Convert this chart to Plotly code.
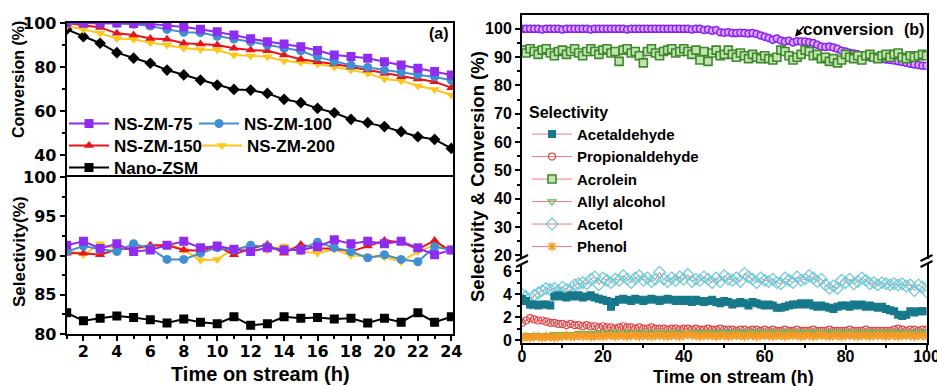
import plotly.graph_objects as go

W, H = 937, 386
def PX(p): return p / W
def PY(p): return 1 - p / H

# ---------------- Panel (a) data ----------------
hours = list(range(1, 25))
conv_75 = [100, 100, 100, 100, 99.8, 99.5, 99, 98.2, 97.2, 96, 94.5, 92.8, 91.5, 90.5, 89.2, 87.5, 85.5, 84.8, 84.0, 82.4, 80.9, 79.4, 77.9, 76.4]
conv_100 = [100, 100, 100, 99.9, 99.4, 98.6, 97.1, 95.8, 95.6, 94, 92.7, 91.5, 90, 88.5, 87.3, 84.5, 82.5, 80.8, 79.8, 78.6, 77.5, 76.5, 75.5, 74]
conv_150 = [100, 99, 98, 95.3, 94.5, 93, 92.6, 90.8, 90.5, 90, 88.5, 87.7, 87.4, 85.5, 83.5, 82.4, 81.4, 80, 78.6, 77.1, 75.6, 74.5, 73.3, 70.6]
conv_200 = [98.5, 97.1, 95.3, 93, 92.6, 91, 90, 88.5, 88, 87.7, 85.5, 85, 84.7, 82.7, 82, 81.4, 80, 78.6, 77.1, 74.5, 73.8, 71.4, 69.8, 67.3]
conv_nano = [97.1, 93.8, 90.8, 86.5, 84, 81.7, 78.6, 76.4, 74, 71.8, 69.8, 69.5, 68, 65.3, 63.8, 61.2, 59.2, 56.2, 54.7, 52.9, 50.6, 48.3, 47.1, 43]

sel_75 = [91.3, 91.8, 90.9, 91.5, 90.5, 90.7, 91.3, 91.8, 91.0, 91.2, 90.8, 90.5, 91.0, 90.7, 90.7, 91.1, 92.0, 91.5, 91.8, 91.5, 91.8, 91.0, 90.1, 90.7]
sel_100 = [90.5, 91.2, 90.8, 90.5, 91.5, 90.9, 89.5, 89.5, 90.3, 91.0, 90.7, 91.3, 91.1, 90.7, 90.8, 91.7, 91.0, 90.5, 89.7, 90.1, 89.5, 89.2, 91.1, 90.7]
sel_150 = [90.3, 90.3, 90.1, 90.8, 90.9, 91.3, 91.3, 90.7, 90.6, 91.2, 90.1, 90.9, 91.4, 90.3, 91.4, 90.9, 90.9, 90.5, 91.2, 91.9, 91.7, 90.8, 91.9, 90.5]
sel_200 = [90.7, 90.1, 91.5, 90.8, 91.0, 91.0, 91.5, 90.7, 89.4, 89.5, 90.9, 90.8, 90.7, 91.2, 90.5, 90.3, 90.8, 90.0, 89.9, 89.8, 89.2, 90.5, 91.3, 90.8]
sel_nano = [82.7, 81.7, 82.0, 82.3, 82.1, 81.8, 81.4, 81.9, 81.5, 81.3, 82.2, 81.1, 81.3, 82.2, 82.0, 82.1, 81.9, 82.0, 81.4, 82.0, 81.5, 82.7, 81.5, 82.2]

names_a = ["NS-ZM-75", "NS-ZM-100", "NS-ZM-150", "NS-ZM-200", "Nano-ZSM"]
colors_a = ["#8f2cf0", "#3f8fd2", "#e8141c", "#ffc61a", "#000000"]

# ---------------- Panel (b) data ----------------
time_b = list(range(0, 101))
conversion_b = [100,100,100,100,100,99.8,100,100,100,100,
                99.8,100,100,100,100,100,100,99.8,100,100,
                100,100,100,100,100,100,99.8,100,100,100,
                100,100,100,100,100,100,100,100,100,100,
                100,100,99.8,100,100,99.6,99.8,99.3,99.6,98.8,
                98.6,98.8,98.5,98.5,98.6,98.5,98.4,98.5,98.2,97.7,
                97.2,96.8,96.2,96.6,95.9,95.5,95.8,95.2,95.6,95.5,
                95.5,95.3,95.0,94.4,93.8,93.6,93.8,93.4,93.0,92.3,
                92.0,91.6,91.3,91.0,90.6,90.2,90.0,89.7,89.5,89.4,
                89.2,89.0,88.8,88.6,88.3,88.0,87.7,87.4,87.2,87.0,87.0]
acrolein = [92.5,91.5,93,92,91,92.5,93,91.5,90.5,92,
            92.5,91,92,93,91.5,90.5,92,93,92,91,
            92.5,93,91.5,92,88.5,92.5,93,91.5,92,90.5,
            88,92,93,91.5,90.5,92,92.5,93,91.5,92,
            93,92,91,92.5,89,92,88.5,91.5,92.5,90.5,
            91,92.5,91,90,91.5,90.5,89.5,91,90,89.5,
            90.5,89.5,89,90,92.5,92,90.5,89,90,91,
            92.5,92,90.5,91,89.5,90,88.5,89.5,88,89,
            91,90,89.5,90.5,89,90.5,91,90,89.5,90.5,
            91,90,91,91.5,90,89.5,90.5,90,90.5,91,90.5]
acetaldehyde = [3.6,3.4,3.1,3.1,3.0,3.1,3.1,3.0,3.8,3.9,
                3.8,3.7,3.9,3.8,3.9,3.7,3.8,3.9,3.7,3.6,
                3.5,3.4,2.9,3.3,3.5,3.6,3.5,3.4,3.6,3.5,
                3.4,3.5,3.6,3.5,3.4,3.5,3.6,3.5,3.4,3.5,
                3.4,3.5,3.3,3.5,3.4,3.3,3.4,3.5,3.3,3.2,
                3.4,3.3,3.1,3.2,3.3,3.2,3.0,3.3,3.2,3.1,
                3.0,3.1,3.0,2.8,2.8,2.9,3.0,3.1,3.1,3.2,
                3.1,3.2,3.0,2.9,3.0,2.9,2.8,2.7,2.9,3.0,
                3.0,2.9,3.1,3.0,3.1,2.9,3.0,2.9,2.8,2.9,
                2.7,2.6,2.5,2.2,2.1,2.2,2.5,2.4,2.5,2.5,2.5]
propionaldehyde = [1.5,1.7,1.9,1.8,1.7,1.7,1.6,1.5,1.5,1.4,
                   1.4,1.3,1.4,1.3,1.3,1.2,1.3,1.2,1.2,1.1,
                   1.2,1.1,1.1,1.0,1.1,1.2,1.1,1.1,1.0,1.1,
                   1.0,1.0,1.1,1.0,1.0,1.0,0.9,1.0,1.0,0.9,
                   1.0,1.0,0.9,1.0,0.9,0.9,1.0,0.9,0.9,1.0,
                   0.9,0.9,0.9,0.8,0.9,0.9,0.8,0.9,0.9,0.8,
                   0.9,0.8,0.9,0.8,0.8,0.9,0.8,0.8,0.9,0.8,
                   0.8,0.8,0.9,0.8,0.8,0.8,0.9,0.8,0.8,0.8,
                   0.8,0.9,0.8,0.8,0.8,0.9,0.8,0.8,0.8,0.8,
                   0.8,0.8,0.9,1.0,0.9,0.8,0.9,0.9,0.8,0.9,0.9]
allyl_alcohol = [0.3,0.4,0.3,0.4,0.4,0.3,0.4,0.4,0.5,0.4,
                 0.5,0.4,0.5,0.5,0.6,0.5,0.6,0.5,0.6,0.6,
                 0.5,0.6,0.6,0.7,0.6,0.6,0.7,0.6,0.6,0.7,
                 0.6,0.7,0.6,0.6,0.7,0.6,0.6,0.6,0.7,0.6,
                 0.6,0.7,0.7,0.6,0.7,0.6,0.7,0.7,0.6,0.7,
                 0.7,0.6,0.7,0.7,0.7,0.6,0.7,0.7,0.7,0.7,
                 0.6,0.7,0.7,0.7,0.6,0.7,0.7,0.7,0.7,0.6,
                 0.7,0.7,0.7,0.7,0.7,0.6,0.7,0.7,0.7,0.7,
                 0.7,0.7,0.6,0.7,0.7,0.7,0.7,0.7,0.6,0.7,
                 0.7,0.7,0.7,0.7,0.7,0.6,0.7,0.7,0.7,0.7,0.7]
acetol = [4.0,3.8,3.2,3.9,4.1,4.3,4.5,4.4,4.5,4.3,
          4.6,4.4,4.3,4.8,4.9,5.0,4.9,5.3,5.5,4.8,
          5.4,5.2,5.0,5.3,5.2,5.6,5.3,5.0,5.4,5.6,
          5.2,5.4,5.1,5.3,5.9,5.3,5.1,5.4,5.2,5.5,
          5.3,5.7,5.1,5.3,5.2,5.5,5.3,5.0,5.4,5.1,
          5.6,5.3,5.2,5.4,5.1,5.8,5.5,5.3,5.0,5.4,
          5.2,5.1,5.3,5.0,4.9,5.4,5.2,5.0,5.5,5.2,
          5.3,5.6,5.4,5.1,5.3,4.8,4.5,4.7,4.5,5.2,
          5.0,5.3,4.9,5.1,5.4,5.2,4.9,5.0,4.8,5.0,
          4.9,4.8,4.9,4.8,4.9,4.7,4.8,4.3,4.8,4.6,4.2]
phenol = [0.2,0.3,0.2,0.3,0.3,0.2,0.3,0.3,0.2,0.3,
          0.3,0.4,0.3,0.3,0.4,0.3,0.4,0.3,0.3,0.4,
          0.3,0.4,0.4,0.3,0.4,0.4,0.3,0.4,0.4,0.3,
          0.4,0.4,0.3,0.4,0.4,0.4,0.3,0.4,0.4,0.3,
          0.4,0.5,0.4,0.4,0.3,0.4,0.4,0.4,0.3,0.4,
          0.4,0.3,0.4,0.4,0.4,0.3,0.4,0.4,0.3,0.4,
          0.4,0.4,0.3,0.4,0.4,0.3,0.4,0.4,0.4,0.3,
          0.4,0.4,0.3,0.4,0.4,0.4,0.3,0.4,0.4,0.3,
          0.4,0.4,0.4,0.3,0.4,0.4,0.3,0.4,0.4,0.4,
          0.3,0.4,0.4,0.3,0.4,0.4,0.4,0.3,0.4,0.4,0.3]

FONT = "Liberation Sans, Arial, sans-serif"
FONT_A = "DejaVu Sans, sans-serif"
fig = go.Figure()

# ---- panel (a) traces ----
conv_a = [conv_75, conv_100, conv_150, conv_200, conv_nano]
sel_a = [sel_75, sel_100, sel_150, sel_200, sel_nano]
sym_top = ["square", "circle", "triangle-up", "triangle-down", "diamond"]
sym_bot = ["square", "circle", "triangle-up", "triangle-down", "square"]
legs = ["legend", "legend2", "legend3", "legend4", "legend5"]
order = [4, 3, 2, 1, 0]
for i in order:
    fig.add_trace(go.Scatter(x=hours, y=conv_a[i], mode="lines+markers", name=names_a[i],
                             line=dict(color=colors_a[i], width=2),
                             marker=dict(symbol=sym_top[i], size=9, color=colors_a[i]),
                             xaxis="x", yaxis="y", showlegend=False))
for i in order:
    fig.add_trace(go.Scatter(x=hours, y=sel_a[i], mode="lines+markers", name=names_a[i],
                             line=dict(color=colors_a[i], width=2),
                             marker=dict(symbol=sym_bot[i], size=9, color=colors_a[i]),
                             xaxis="x2", yaxis="y2", legend=legs[i]))

# ---- panel (b) traces ----
LC = "#f07a7a"
fig.add_trace(go.Scatter(x=time_b, y=conversion_b, mode="lines+markers", name="conversion",
                         line=dict(color="#9a30f0", width=1),
                         marker=dict(symbol="circle", size=7, color="#d9a8ff",
                                     line=dict(color="#8a1ff0", width=1.5)),
                         xaxis="x3", yaxis="y3", showlegend=False))
fig.add_trace(go.Scatter(x=time_b, y=acrolein, mode="lines+markers", name="Acrolein",
                         line=dict(color=LC, width=1),
                         marker=dict(symbol="square", size=8, color="#c4e3b3",
                                     line=dict(color="#3d8a2a", width=1.6)),
                         xaxis="x3", yaxis="y3", legend="legend6", legendrank=3))
lower = [
    ("Acetol", acetol, "diamond-open", "#6cc9d9", 9, 1.2, 5),
    ("Acetaldehyde", acetaldehyde, "square", "#16788a", 8, 0, 1),
    ("Propionaldehyde", propionaldehyde, "circle-open", "#e0484a", 7, 1.2, 2),
    ("Allyl alcohol", allyl_alcohol, "triangle-down-open", "#5cb85c", 7, 1.2, 4),
    ("Phenol", phenol, "asterisk-open", "#f59a25", 8, 1.5, 6),
]
for name, vals, sym, col, sz, lw, rank in lower:
    mk = dict(symbol=sym, size=sz, color=col)
    if lw:
        mk["line"] = dict(color=col, width=lw)
    fig.add_trace(go.Scatter(x=time_b, y=vals, mode="lines+markers", name=name,
                             line=dict(color=LC, width=1), marker=mk,
                             xaxis="x4", yaxis="y4", legend="legend6", legendrank=rank))

# ---- axes ----
tf_a = dict(family=FONT_A, size=16, color="black", weight="bold")
tf_b = dict(family=FONT, size=16, color="black", weight="bold")
base = dict(showline=True, linecolor="black", linewidth=2, showgrid=False, zeroline=False,
            ticklen=5, tickwidth=2, tickcolor="black", ticklabeloverflow="allow")
ax_a = dict(base, tickfont=tf_a)
ax_b = dict(base, tickfont=tf_b)
mn = dict(ticks="outside", ticklen=3, tickwidth=1.5, tickcolor="black")
xa_dom = [PX(66.7), PX(453)]
xb_dom = [PX(522), PX(926.5)]

layout = dict(
    width=W, height=H, margin=dict(l=0, r=0, t=0, b=0, autoexpand=False),
    paper_bgcolor="white", plot_bgcolor="white", showlegend=True,
    xaxis=dict(ax_a, domain=xa_dom, range=[1, 24.1], anchor="y", side="top",
               ticks="", showticklabels=False),
    yaxis=dict(ax_a, domain=[PY(177), PY(23)], range=[30, 100], anchor="x", mirror=True,
               ticks="outside", tickvals=[40, 60, 80, 100],
               minor=dict(mn, tickvals=[50, 70, 90])),
    xaxis2=dict(ax_a, domain=xa_dom, range=[1, 24.1], anchor="y2", mirror=True,
                ticks="outside", tickvals=list(range(2, 25, 2)), ticklabelstandoff=-3,
                minor=dict(mn, tickvals=list(range(1, 25, 2)))),
    yaxis2=dict(ax_a, domain=[PY(334), PY(177)], range=[80, 100], anchor="x2", mirror=True,
                ticks="outside", tickvals=[80, 85, 90, 95, 100],
                minor=dict(mn, tickvals=[82.5, 87.5, 92.5, 97.5])),
    xaxis3=dict(ax_b, domain=xb_dom, range=[0, 100], anchor="y3", side="top",
                ticks="", showticklabels=False),
    yaxis3=dict(ax_b, domain=[PY(259), PY(15)], range=[18.7, 104.9], anchor="x3", mirror=True,
                ticks="outside", tickvals=list(range(20, 101, 10)),
                minor=dict(mn, tickvals=list(range(25, 101, 10)))),
    xaxis4=dict(ax_b, domain=xb_dom, range=[0, 100], anchor="y4",
                ticks="outside", tickvals=list(range(0, 101, 20)), ticklabelstandoff=-7,
                minor=dict(mn, tickvals=list(range(10, 100, 20)))),
    yaxis4=dict(ax_b, domain=[PY(343), PY(264)], range=[-0.26, 6.62], anchor="x4", mirror=True,
                ticks="outside", tickvals=[0, 2, 4, 6],
                minor=dict(mn, tickvals=[1, 3, 5])),
)

lf = dict(family=FONT, size=17, color="black", weight="bold")
leg_common = dict(orientation="h", font=lf, bgcolor="rgba(0,0,0,0)", itemwidth=40,
                  xanchor="left", yanchor="middle", itemclick=False)
leg_pos = [(64, 124), (194, 124), (64, 146), (197, 146), (64, 168)]
for key, (lx, ly) in zip(legs, leg_pos):
    layout[key] = dict(leg_common, x=PX(lx), y=PY(ly))
lf_b = dict(family=FONT, size=15, color="black", weight="bold")
layout["legend6"] = dict(orientation="v", font=lf_b, bgcolor="rgba(0,0,0,0)", itemwidth=40,
                         x=PX(527), y=PY(97), xanchor="left", yanchor="top", traceorder="normal",
                         title=dict(text="Selectivity", font=dict(family=FONT, size=16, color="black", weight="bold")))

tt = dict(family=FONT, color="black", weight="bold")
ann = [
    dict(text="Time on stream (h)", x=PX(260), y=PY(374), font=dict(tt, size=20)),
    dict(text="Time on stream (h)", x=PX(733), y=PY(377), font=dict(tt, size=18)),
    dict(text="Conversion (%)", x=PX(19), y=PY(80), textangle=-90, font=dict(tt, size=16)),
    dict(text="Selectivity(%)", x=PX(19), y=PY(252), textangle=-90, font=dict(tt, size=17)),
    dict(text="Selectivity & Conversion (%)", x=PX(477), y=PY(177), textangle=-90, font=dict(tt, size=18.5)),
    dict(text="(a)", x=PX(439), y=PY(34), font=dict(tt, size=16)),
    dict(text="(b)", x=PX(914), y=PY(29), font=dict(tt, size=16)),
    dict(text="conversion", x=PX(848), y=PY(29), font=dict(tt, size=17)),
]
annotations = []
for a in ann:
    d = dict(xref="paper", yref="paper", showarrow=False, xanchor="center", yanchor="middle")
    d.update(a)
    annotations.append(d)
annotations.append(dict(xref="x3", yref="y3", x=67.5, y=97.2, text="", showarrow=True,
                        arrowhead=2, arrowsize=1, arrowwidth=1.5, arrowcolor="black", ax=10, ay=-12))
layout["annotations"] = annotations

# axis break marks
shapes = []
for xp in (522, 926.5):
    shapes.append(dict(type="rect", xref="paper", yref="paper", x0=PX(xp - 3), x1=PX(xp + 3),
                       y0=PY(264), y1=PY(259), fillcolor="white", line=dict(width=0), layer="above"))
    for yp in (256, 262):
        shapes.append(dict(type="line", xref="paper", yref="paper",
                           x0=PX(xp - 6), y0=PY(yp + 5), x1=PX(xp + 6), y1=PY(yp - 1),
                           line=dict(color="black", width=2)))
layout["shapes"] = shapes

fig.update_layout(layout)
fig.write_html("out.html")
